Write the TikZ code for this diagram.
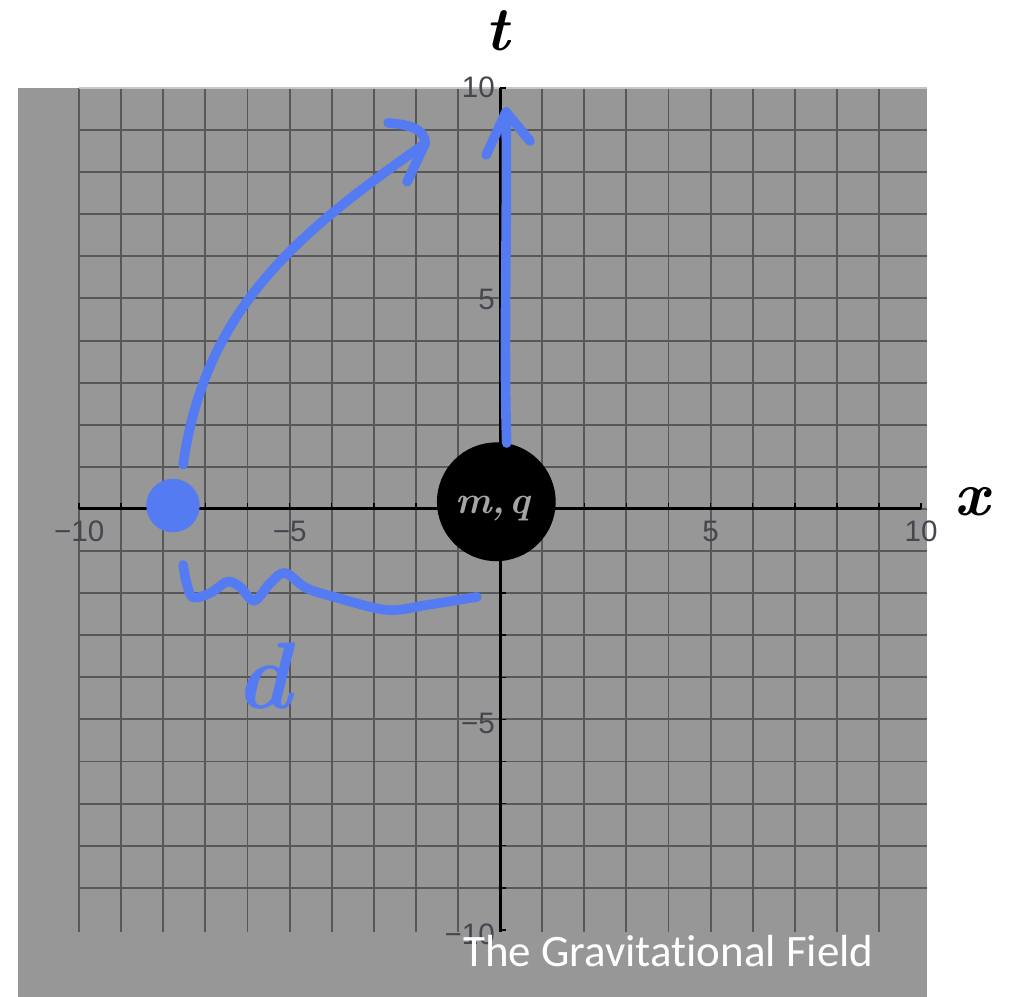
\documentclass[tikz,border=0pt]{standalone}
\usepackage{fontspec}
\usetikzlibrary{positioning}
\newfontfamily\tickfont{Liberation Sans}
\newfontfamily\captionfont[Ligatures=NoCommon]{Carlito}
\definecolor{plotgray}{RGB}{151,151,151}
\definecolor{gridgray}{RGB}{88,88,88}
\definecolor{ink}{RGB}{84,123,242}
\definecolor{mqgray}{RGB}{165,165,165}
\definecolor{ticktext}{RGB}{70,70,80}
\tikzset{
    grid line/.style = {draw=gridgray, line width=1.3pt},
    axis line/.style = {draw=black, line width=2pt},
}
\tikzset{
    pen/.style = {draw=ink, line width=6.5pt, line cap=round, line join=round},
    tick label/.style = {text=ticktext, font=\tickfont\fontsize{20}{24}\selectfont, inner sep=0pt},
    axis name/.style = {font=\fontsize{42}{46}\selectfont\bfseries\itshape},
}
\begin{document}
\begin{tikzpicture}
        \useasboundingbox (-11.88,-11.59) rectangle (12.16,12.09);
        \fill[plotgray] (-11.45,-11.59) rectangle (10.15,10);

        \foreach \i in {-10,...,9} \draw[grid line] (\i,-10.05) -- (\i,10);
        \foreach \j in {-9,...,9} \draw[grid line] (-10,\j) -- (10.15,\j);
        \draw[draw=gray!45, line width=1pt] (-10,10) -- (10.15,10);

        \draw[axis line] (-10,0) -- (10,0);
        \draw[axis line] (0,-10.05) -- (0,10);
        \foreach \i in {-10,...,10} {
            \draw[black, line width=1pt] (\i,0) -- (\i,0.14);
            \draw[black, line width=1pt] (0,\i) -- (0.14,\i);
        }

        \foreach \v/\s/\dy in {-10/−10/-0.1, -5/−5/-0.1, 5/5/-0.03, 10/10/0.02} {
            \node[tick label] (xl\v) at (\v,-0.54) {\s};
            \node[tick label, anchor=east] (yl\v) at (-0.12,\v+\dy) {\s};
        }

        \node[axis name] (tname) at (-0.07,11.36) {t};
        \node[axis name] (xname) at (11.21,0.17) {x};

        \node[circle, fill=black, minimum size=2.82cm, inner sep=0pt,
              label={[text=mqgray, font=\fontsize{26}{30}\selectfont\bfseries\itshape, xshift=-0.08cm, yshift=-0.15cm]center:m,\hspace{0.12em}q}] (mq) at (-0.09,0.17) {};
        \node[circle, fill=ink, minimum size=1.27cm, inner sep=0pt] (dot) at (-7.77,0.08) {};

        % curved worldline out of the dot
        \coordinate (arcstart) at (-7.53,1.05);
        \coordinate (arctip) at (-1.78,8.68);
        \draw[pen] (arcstart) to[out=82, in=-145] (arctip);
        \draw[pen] (arctip) ++(-0.88,0.49) to[out=-5, in=90] (arctip) -- ++(-0.43,-0.91);

        % straight worldline of m, q
        \coordinate (risetip) at (0.14,9.43);
        \draw[pen] (mq.80) .. controls (0.08,4) and (0.18,7) .. (risetip);
        \draw[pen] (risetip) ++(-0.47,-1.02) -- (risetip) -- ++(0.57,-0.69);

        % distance
        \draw[pen] plot[smooth, tension=0.55] coordinates {(-7.53,-1.33) (-7.45,-1.75) (-7.30,-2.10) (-6.89,-2.00) (-6.48,-1.73) (-6.18,-1.85) (-5.84,-2.18) (-5.46,-1.76) (-5.11,-1.52) (-4.60,-1.88) (-3.87,-2.11) (-2.68,-2.40) (-1.73,-2.28) (-0.55,-2.09)};
        \node[text=ink, font=\fontsize{64}{70}\selectfont\bfseries\itshape] (dee) at (-5.63,-3.97) {d};

        \node[text=white, font=\captionfont\fontsize{30.4}{34}\selectfont, anchor=base, inner sep=0pt] (caption) at (4.0,-10.86) {The Gravitational Field};
\end{tikzpicture}
\end{document}
